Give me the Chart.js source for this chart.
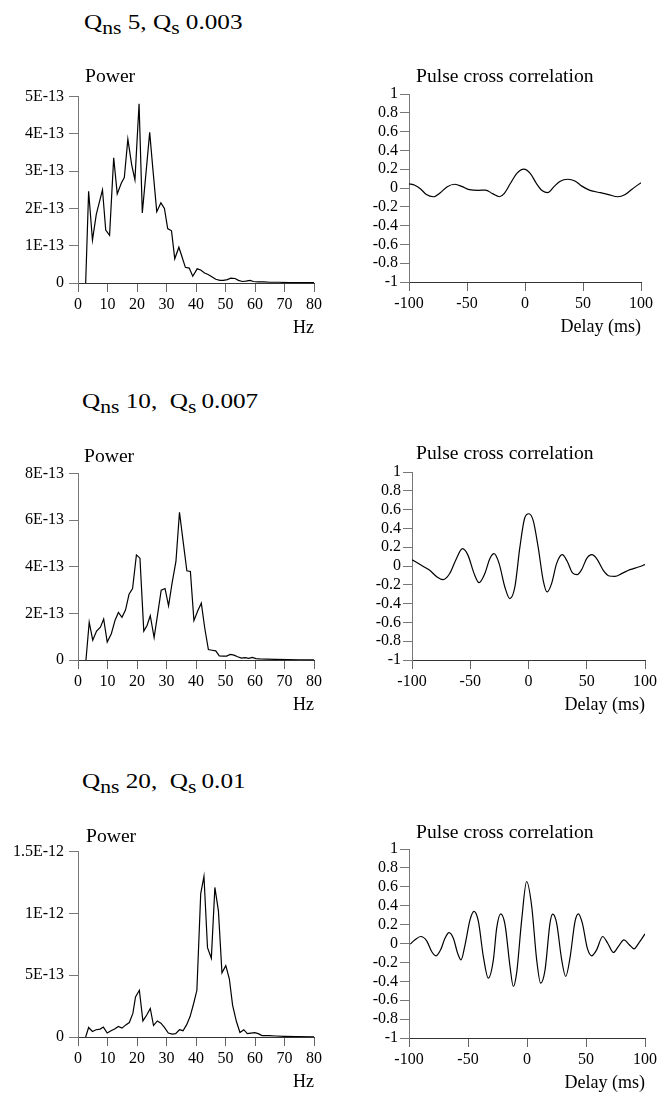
<!DOCTYPE html>
<html><head><meta charset="utf-8">
<script src="https://cdn.jsdelivr.net/npm/chart.js@4.4.1/dist/chart.umd.min.js"></script>
<style>
html,body{margin:0;padding:0;background:#fff;}
#page{position:relative;width:663px;height:1099px;overflow:hidden;background:#fff;font-family:"Liberation Serif","Times New Roman",serif;color:#000;}
canvas{position:absolute;}
.head{position:absolute;font-size:21px;line-height:21px;white-space:pre;transform:scaleX(1.2);transform-origin:0 0;}
.head sub{font-size:18px;vertical-align:-5px;line-height:0;}
.lab{position:absolute;font-size:18px;line-height:18px;white-space:pre;transform:scaleX(1.09);transform-origin:0 0;}
</style></head>
<body>
<div id="page">
<canvas id="p1"></canvas><canvas id="c1"></canvas>
<canvas id="p2"></canvas><canvas id="c2"></canvas>
<canvas id="p3"></canvas><canvas id="c3"></canvas>
<div class="head" style="left:84px;top:12px">Q<sub>ns</sub> 5, Q<sub>s</sub> 0.003</div>
<div class="head" style="left:82px;top:391px">Q<sub>ns</sub> 10,&nbsp; Q<sub>s</sub>&thinsp;0.007</div>
<div class="head" style="left:82px;top:771px">Q<sub>ns</sub> 20,&nbsp; Q<sub>s</sub>&thinsp;0.01</div>
<div class="lab" style="left:85px;top:67px">Power</div>
<div class="lab" style="left:84px;top:447px">Power</div>
<div class="lab" style="left:86px;top:827px">Power</div>
<div class="lab" style="left:416px;top:67px">Pulse cross correlation</div>
<div class="lab" style="left:416px;top:444px">Pulse cross correlation</div>
<div class="lab" style="left:416px;top:823px">Pulse cross correlation</div>
</div>
<script>
// ---------- DATA ----------
// Power spectra (frequency in Hz, power in units of 1E-13)
const hz1 = [2.6,3.6,4.9,6.2,8.3,9.4,10.7,12.1,13.3,14.7,15.7,16.9,18.2,19.3,20.7,21.8,23.2,24.3,25.4,26.7,28.1,29.3,30.4,31.7,32.8,34.2,35.3,36.4,37.7,38.9,40.4,41.6,42.9,44.1,45.5,46.7,48.1,49.3,50.6,51.8,53.2,54.4,55.7,56.9,58.3,59.5,61.0,63.0,65.0,68.0,72.0,76.0,80.0];
const pow1 = [0,2.46,1.15,1.84,2.50,1.42,1.28,3.36,2.39,2.68,2.83,3.86,3.17,2.77,4.81,1.88,3.08,4.04,3.04,1.91,2.15,2.00,1.46,1.40,0.65,0.96,0.69,0.42,0.40,0.18,0.38,0.35,0.27,0.23,0.16,0.10,0.07,0.07,0.09,0.13,0.12,0.07,0.04,0.05,0.07,0.04,0.03,0.03,0.02,0.02,0.01,0.01,0.01];

const hz2 = [2.7,3.8,5.0,6.3,7.6,8.7,9.9,11.3,12.6,13.7,14.9,16.1,17.3,18.5,19.8,21.0,22.3,23.4,24.5,25.8,27.0,28.2,29.5,30.7,31.9,33.2,34.4,35.7,36.9,38.1,39.3,40.6,41.8,43.0,44.2,45.4,46.7,47.9,49.2,50.4,51.6,52.9,54.1,55.4,56.6,57.9,59.1,60.3,61.6,64,67,71,75,80];
const pow2 = [0,1.62,0.85,1.24,1.41,1.76,0.77,1.13,1.72,2.04,1.83,2.14,2.82,3.07,4.51,4.37,1.24,1.48,1.90,0.96,1.97,3.00,3.07,2.32,3.31,4.23,6.34,5.03,3.83,3.80,1.69,2.11,2.44,1.34,0.45,0.42,0.39,0.18,0.17,0.17,0.24,0.21,0.14,0.08,0.10,0.07,0.11,0.06,0.05,0.04,0.03,0.02,0.01,0.01];

const hz3 = [2.6,3.6,4.9,6.1,7.5,8.6,9.9,11.2,12.4,13.7,14.9,16.2,17.4,18.6,19.5,20.8,22.0,23.3,24.5,25.6,26.9,28.1,29.3,30.6,31.9,33.1,34.4,35.6,36.8,38.0,39.2,40.3,41.6,42.7,43.9,45.2,46.4,47.6,48.8,50.1,51.3,52.4,53.7,54.9,56.2,57.4,58.6,59.9,61.1,62.4,63.6,64.8,67,70,74,80];
const pow3 = [0,0.77,0.45,0.59,0.64,0.80,0.32,0.51,0.64,0.85,0.72,0.98,1.17,1.91,3.24,3.78,1.30,1.78,2.31,0.93,1.30,1.12,0.77,0.32,0.24,0.27,0.59,0.51,0.98,1.65,2.71,3.78,11.6,13.0,7.23,6.38,12.1,10.2,5.19,5.77,4.71,2.58,1.25,0.37,0.59,0.27,0.32,0.35,0.27,0.11,0.11,0.11,0.08,0.05,0.03,0.01];

// Pulse cross correlation (delay in ms, correlation)
const delay1 = [-100,-95,-90,-85,-79,-73,-67,-60.5,-54,-48,-40,-34,-28,-22,-18,-12.5,-7,-1,4.5,10,15,19.5,25,30,37,43,49,56,65,72,80,86,92,100];
const corr1 = [0.045,0.03,-0.01,-0.07,-0.093,-0.05,0.014,0.04,0.014,-0.018,-0.025,-0.022,-0.06,-0.093,-0.06,0.05,0.155,0.2,0.155,0.045,-0.03,-0.05,0.014,0.07,0.093,0.075,0.02,-0.025,-0.05,-0.07,-0.093,-0.072,-0.015,0.057];

const delay2 = [-100,-92,-84.8,-78.5,-73.4,-67.6,-61.9,-56.7,-51.9,-46.7,-42.4,-37.5,-33.2,-29.5,-25.2,-20.3,-16,-11.7,-7.4,-3.2,0.3,4,8.3,12.6,16,19.8,24.1,29,33.2,37.8,41.8,45.6,49.9,54.4,58.5,64.2,69.3,74.2,79.9,87.1,94.3,100];
const corr2 = [0.067,0.007,-0.046,-0.117,-0.145,-0.08,0.078,0.184,0.113,-0.081,-0.177,-0.081,0.078,0.131,0.025,-0.223,-0.347,-0.223,0.2,0.513,0.556,0.485,0.2,-0.152,-0.276,-0.188,0.025,0.12,0.05,-0.074,-0.092,-0.039,0.078,0.12,0.078,-0.046,-0.106,-0.11,-0.081,-0.039,-0.011,0.014];

const delay3 = [-99,-94.9,-90.1,-85,-80.8,-77.1,-73.2,-69.5,-66.1,-62.4,-58.8,-55.9,-52.5,-48.3,-44.9,-41.2,-37,-32.8,-28.5,-25.7,-22.3,-18.6,-14.4,-11.6,-8.8,-4.5,-0.3,4,8.2,11.6,15.3,19.5,21.8,25.1,29.4,32.8,36.4,40.7,43.5,46.9,51.1,54.8,59,64.1,68.5,73.2,77.5,82.2,86.5,90.7,95,100];
const corr3 = [-0.007,0.04,0.074,0.028,-0.085,-0.13,-0.067,0.056,0.116,0.056,-0.102,-0.173,-0.014,0.25,0.339,0.233,-0.138,-0.367,-0.173,0.162,0.314,0.198,-0.243,-0.455,-0.314,0.25,0.656,0.392,-0.173,-0.42,-0.279,0.215,0.31,0.215,-0.173,-0.349,-0.155,0.233,0.314,0.215,-0.049,-0.13,-0.067,0.074,0,-0.095,-0.03,0.039,-0.01,-0.056,0.01,0.102];

// Tick values and labels
const hzTicks = [0,10,20,30,40,50,60,70,80];
const hzLabels = ['0','10','20','30','40','50','60','70','80'];
const delayTicks = [-100,-50,0,50,100];
const delayLabels = ['-100','-50','0','50','100'];
const corrTicks = [-1,-0.8,-0.6,-0.4,-0.2,0,0.2,0.4,0.6,0.8,1];
const corrLabels = ['-1','-0.8','-0.6','-0.4','-0.2','0','0.2','0.4','0.6','0.8','1'];
const powTicks1 = [0,1,2,3,4,5];
const powLabels1 = ['0','1E-13','2E-13','3E-13','4E-13','5E-13'];
const powTicks2 = [0,2,4,6,8];
const powLabels2 = ['0','2E-13','4E-13','6E-13','8E-13'];
const powTicks3 = [0,5,10,15];
const powLabels3 = ['0','5E-13','1E-12','1.5E-12'];

// ---------- DRAWING ----------
const FAM = '"Liberation Serif","Times New Roman",serif';

function panel(id, geo, xs, ys, ax) {
  const cv = document.getElementById(id);
  cv.width = geo.w; cv.height = geo.h;
  cv.style.left = geo.left + 'px'; cv.style.top = geo.top + 'px';
  cv.style.width = geo.w + 'px'; cv.style.height = geo.h + 'px';
  new Chart(cv, {
    type: 'line',
    data: { datasets: [{
      data: xs.map((x, i) => ({ x: x, y: ys[i] })),
      borderColor: '#000', borderWidth: 1.2, pointRadius: 0, fill: false,
      tension: ax.smooth ? 0.4 : 0,
      cubicInterpolationMode: ax.smooth ? 'monotone' : 'default'
    }]},
    options: {
      responsive: false, animation: false, devicePixelRatio: 1,
      layout: { padding: { left: 0, top: 12, right: geo.padR, bottom: 0 } },
      plugins: { legend: { display: false }, tooltip: { enabled: false }, title: { display: false } },
      scales: {
        x: {
          type: 'linear', min: ax.xMin, max: ax.xMax,
          afterBuildTicks: s => { s.ticks = ax.xTicks.map(v => ({ value: v })); },
          ticks: { color: '#000', font: { family: FAM, size: 16 }, padding: 3, maxRotation: 0, autoSkip: false,
                   callback: (v, i) => ax.xLabels[i] },
          grid: { drawOnChartArea: false, drawTicks: true, tickLength: 9, color: '#666', lineWidth: 1 },
          border: { display: true, color: '#333', width: 1 },
          title: { display: true, text: ax.xTitle, align: 'end', color: '#000',
                   font: { family: FAM, size: 18 }, padding: { top: 0, bottom: 0 } },
          afterFit: s => { s.height = 56; }
        },
        y: {
          type: 'linear', min: ax.yMin, max: ax.yMax,
          afterBuildTicks: s => { s.ticks = ax.yTicks.map(v => ({ value: v })); },
          ticks: { color: '#000', font: { family: FAM, size: 16 }, padding: ax.yPad, autoSkip: false,
                   callback: (v, i) => ax.yLabels[i] },
          grid: { drawOnChartArea: false, drawTicks: true, tickLength: 9, color: '#777', lineWidth: 1 },
          border: { display: true, color: '#777', width: 1 },
          afterFit: s => { s.width = geo.yW; }
        }
      }
    }
  });
}

const powAxis = (t, l, max) => ({ xMin: 0, xMax: 80, xTicks: hzTicks, xLabels: hzLabels, xTitle: 'Hz',
  yMin: 0, yMax: max, yTicks: t, yLabels: l, yPad: 5, smooth: false });
const corrAxis = { xMin: -100, xMax: 100, xTicks: delayTicks, xLabels: delayLabels, xTitle: 'Delay (ms)',
  yMin: -1, yMax: 1, yTicks: corrTicks, yLabels: corrLabels, yPad: 2, smooth: true };

panel('p1', { left: 0, top: 82, w: 330, h: 257, yW: 78, padR: 16 }, hz1, pow1, powAxis(powTicks1, powLabels1, 5));
panel('p2', { left: 0, top: 459, w: 330, h: 257, yW: 78, padR: 16 }, hz2, pow2, powAxis(powTicks2, powLabels2, 8));
panel('p3', { left: 0, top: 837, w: 330, h: 256, yW: 78, padR: 16 }, hz3, pow3, powAxis(powTicks3, powLabels3, 15));
panel('c1', { left: 330, top: 82, w: 333, h: 256, yW: 79, padR: 22 }, delay1, corr1, corrAxis);
panel('c2', { left: 330, top: 460, w: 333, h: 256, yW: 82, padR: 18 }, delay2, corr2, corrAxis);
panel('c3', { left: 330, top: 837, w: 333, h: 257, yW: 79, padR: 18 }, delay3, corr3, corrAxis);
</script>
</body></html>
